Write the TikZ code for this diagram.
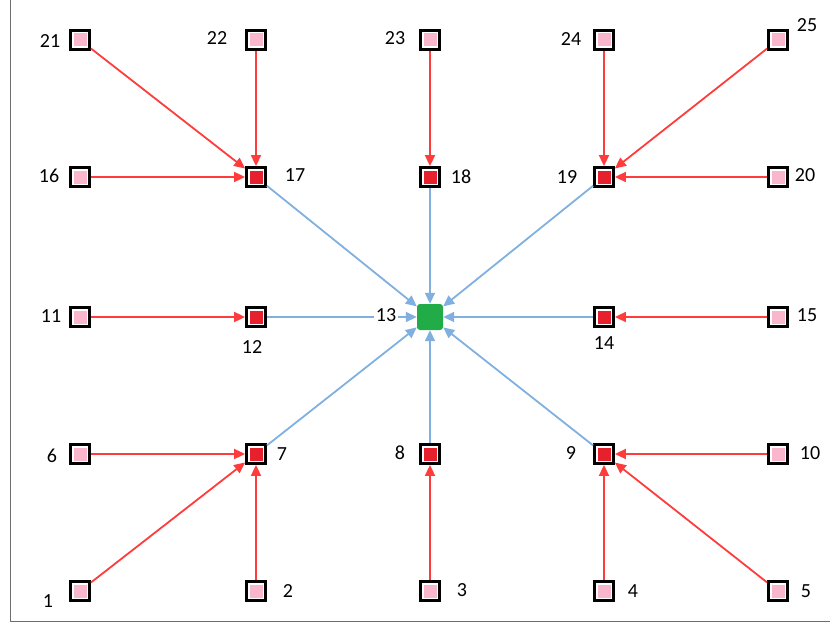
\documentclass[tikz,border=0pt]{standalone}
\usepackage{fontspec}
\setmainfont{Carlito}
\usetikzlibrary{arrows.meta}
\definecolor{cellpink}{RGB}{249,182,205}
\definecolor{hubred}{RGB}{230,32,45}
\definecolor{feedred}{RGB}{255,60,60}
\definecolor{linkblue}{RGB}{128,176,224}
\definecolor{sinkgreen}{RGB}{34,172,72}
\definecolor{framegray}{RGB}{110,110,110}

\tikzset{
  cell/.style={draw=black,line width=2.8pt,minimum size=19pt,inner sep=0pt,
    path picture={\fill[white] (path picture bounding box.south west) rectangle (path picture bounding box.north east);
      \fill[#1] ([shift={(3pt,3pt)}]path picture bounding box.south west) rectangle ([shift={(-3pt,-3pt)}]path picture bounding box.north east);}},
  cell/.default=cellpink,
  hub/.style={cell=hubred},
  sink/.style={fill=sinkgreen,minimum size=26pt,inner sep=0pt,rounded corners=3pt},
  lbl/.style={font=\fontsize{20}{24}\selectfont,inner sep=1.5pt,fill=white},
  feed/.style={-{Triangle[length=11pt,width=10pt]},feedred,line width=1.8pt},
  link/.style={-{Triangle[length=11pt,width=10pt]},linkblue,line width=1.8pt}
}

\begin{document}
\begin{tikzpicture}[x=1pt,y=-1pt]
  \useasboundingbox (0,0) rectangle (830,623);
  % frame
  \draw[framegray,line width=1pt] (10,0) -- (10,621) -- (830,621);

  % outer cells
  \node[cell] (n21) at (80,40) {};
  \node[cell] (n22) at (256,40) {};
  \node[cell] (n23) at (430,40) {};
  \node[cell] (n24) at (604,40) {};
  \node[cell] (n25) at (778,40) {};
  \node[cell] (n16) at (80,177) {};
  \node[cell] (n20) at (778,177) {};
  \node[cell] (n11) at (80,317) {};
  \node[cell] (n15) at (778,317) {};
  \node[cell] (n6) at (80,454) {};
  \node[cell] (n10) at (778,454) {};
  \node[cell] (n1) at (80,591) {};
  \node[cell] (n2) at (256,591) {};
  \node[cell] (n3) at (430,591) {};
  \node[cell] (n4) at (604,591) {};
  \node[cell] (n5) at (778,591) {};

  % inner ring
  \node[hub] (n17) at (256,177) {};
  \node[hub] (n18) at (430,177) {};
  \node[hub] (n19) at (604,177) {};
  \node[hub] (n12) at (256,317) {};
  \node[hub] (n14) at (604,317) {};
  \node[hub] (n7) at (256,454) {};
  \node[hub] (n8) at (430,454) {};
  \node[hub] (n9) at (604,454) {};

  % centre
  \node[sink] (n13) at (430,317) {};

  % feeders into the ring
  \draw[feed] (n21) -- (n17);
  \draw[feed] (n22) -- (n17);
  \draw[feed] (n16) -- (n17);
  \draw[feed] (n23) -- (n18);
  \draw[feed] (n24) -- (n19);
  \draw[feed] (n25) -- (n19);
  \draw[feed] (n20) -- (n19);
  \draw[feed] (n11) -- (n12);
  \draw[feed] (n15) -- (n14);
  \draw[feed] (n6) -- (n7);
  \draw[feed] (n1) -- (n7);
  \draw[feed] (n2) -- (n7);
  \draw[feed] (n3) -- (n8);
  \draw[feed] (n4) -- (n9);
  \draw[feed] (n5) -- (n9);
  \draw[feed] (n10) -- (n9);

  % ring into the centre
  \foreach \h in {17,18,19,12,14,7,8,9}
    \draw[link] (n\h) -- (n13);

  % labels
  \node[lbl] (l21) at (50,41) {21};
  \node[lbl] (l22) at (217,38) {22};
  \node[lbl] (l23) at (395,38) {23};
  \node[lbl] (l24) at (571,39) {24};
  \node[lbl] (l25) at (807,25) {25};
  \node[lbl] (l16) at (49,176) {16};
  \node[lbl] (l17) at (295,175) {17};
  \node[lbl] (l18) at (461,177) {18};
  \node[lbl] (l19) at (567,177) {19};
  \node[lbl] (l20) at (805,175) {20};
  \node[lbl] (l11) at (51,316) {11};
  \node[lbl] (l12) at (252,347) {12};
  \node[lbl] (l13) at (386,315) {13};
  \node[lbl] (l14) at (604,343) {14};
  \node[lbl] (l15) at (807,315) {15};
  \node[lbl] (l6) at (52,456) {6};
  \node[lbl] (l7) at (282,454) {7};
  \node[lbl] (l8) at (400,453) {8};
  \node[lbl] (l9) at (571,453) {9};
  \node[lbl] (l10) at (810,453) {10};
  \node[lbl] (l1) at (48,601) {1};
  \node[lbl] (l2) at (288,591) {2};
  \node[lbl] (l3) at (462,590) {3};
  \node[lbl] (l4) at (633,591) {4};
  \node[lbl] (l5) at (806,591) {5};
\end{tikzpicture}
\end{document}
